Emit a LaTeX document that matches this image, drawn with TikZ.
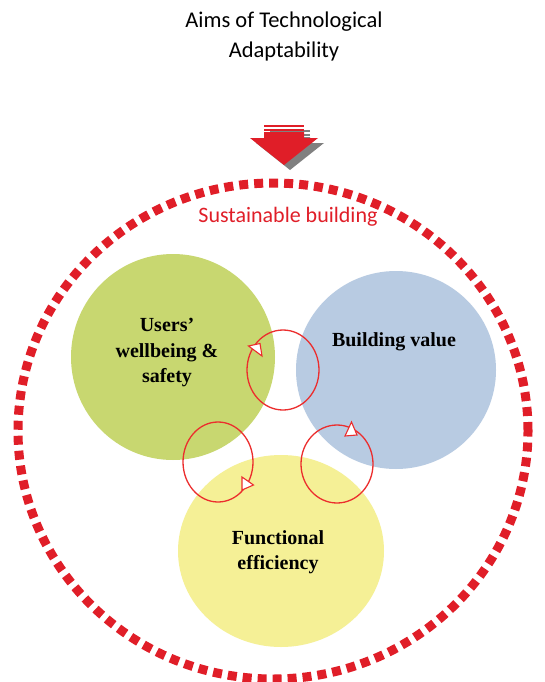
\documentclass[tikz,border=0pt]{standalone}
\usepackage{fontspec}
\setmainfont{Liberation Serif}
\newfontfamily\calib{Carlito}
\usetikzlibrary{shapes.geometric}

\definecolor{ringred}{RGB}{224,30,40}
\definecolor{loopred}{RGB}{236,45,45}
\definecolor{bubgreen}{RGB}{200,215,112}
\definecolor{bubblue}{RGB}{184,203,226}
\definecolor{bubyellow}{RGB}{245,240,150}
\definecolor{shadowgray}{RGB}{128,128,128}

\tikzset{
  bubble/.style={ellipse, draw=none, inner sep=0pt},
  bubtext/.style={font=\bfseries\fontsize{20}{25.5}\selectfont, align=center, inner sep=0pt},
  loopline/.style={draw=loopred, line width=1.3pt},
  looptip/.style={draw=loopred, fill=white, line width=1.1pt, line join=miter},
  ring/.style={draw=ringred, line width=9pt, dash pattern=on 9pt off 6pt},
  titletext/.style={font=\calib\fontsize{22.5}{30}\selectfont, anchor=base, inner sep=0pt},
}

\begin{document}
\begin{tikzpicture}[x=1pt,y=-1pt]
\useasboundingbox (0,0) rectangle (545,682);
\fill[white] (0,0) rectangle (545,682);

% title
\node[titletext] (title1) at (284,28) {Aims of Technological};
\node[titletext] (title2) at (284,58) {Adaptability};

% the three aims
\node[bubble, fill=bubgreen, minimum width=204pt, minimum height=206pt] (users) at (173,357) {};
\node[bubble, fill=bubblue, minimum width=200pt, minimum height=198pt] (value) at (396,370) {};
\node[bubble, fill=bubyellow, minimum width=206pt, minimum height=192pt] (func) at (281,551) {};

\node[bubtext] (userstext) at (167,353) {Users’\\wellbeing \&\\safety};
\node[bubtext, anchor=base] (valuetext) at (394,346) {Building value};
\node[bubtext] (functext) at (278,552) {Functional\\efficiency};

% interaction loops between the aims
\draw[loopline] (283,370) ellipse [x radius=36pt, y radius=40pt];
\draw[loopline] (218,462) ellipse [x radius=35pt, y radius=40pt];
\draw[loopline] (337,464) ellipse [x radius=36pt, y radius=39pt];
\filldraw[looptip] (248.5,346) -- (260,343.5) -- (262,356) -- cycle;
\filldraw[looptip] (253.5,485) -- (242,477) -- (242,490) -- cycle;
\filldraw[looptip] (351.5,422) -- (345,436) -- (357,435) -- cycle;

% sustainable building boundary
\draw[ring] (273,431) ellipse [x radius=255pt, y radius=248pt];
\node[font=\calib\fontsize{22}{26}\selectfont, text=ringred, anchor=base, inner sep=0pt] (sust) at (288,222) {Sustainable building};

% input arrow with shadow
\begin{scope}[shift={(6,5)}]
  \fill[shadowgray] (264,132) -- (304,132) -- (304,138) -- (318,138) -- (284,165) -- (250,138) -- (264,138) -- cycle;
  \fill[shadowgray] (264,125) rectangle (304,127);
  \fill[shadowgray] (264,128.5) rectangle (304,130.5);
\end{scope}
\fill[ringred] (264,132) -- (304,132) -- (304,138) -- (318,138) -- (284,165) -- (250,138) -- (264,138) -- cycle;
\fill[ringred] (264,125) rectangle (304,127);
\fill[ringred] (264,128.5) rectangle (304,130.5);
\end{tikzpicture}
\end{document}
